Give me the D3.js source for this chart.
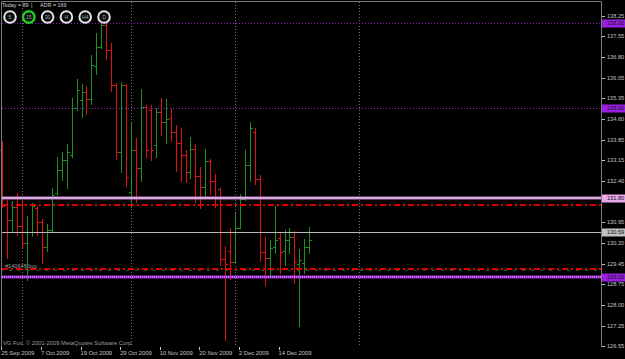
<!DOCTYPE html>
<html>
<head>
<meta charset="utf-8">
<script src="https://cdn.jsdelivr.net/npm/d3@7"></script>
<style>
body { margin: 0; background: #000; }
svg { display: block; }
text { font-family: "Liberation Sans", Arial, sans-serif; }
</style>
</head>
<body>
<svg width="625" height="359"></svg>
<script>
// daily bars, 25 Sep 2009 .. 22 Dec 2009
var dates = ["2009-09-25","2009-09-28","2009-09-29","2009-09-30",
  "2009-10-01","2009-10-02","2009-10-05","2009-10-06","2009-10-07","2009-10-08","2009-10-09",
  "2009-10-12","2009-10-13","2009-10-14","2009-10-15","2009-10-16","2009-10-19","2009-10-20",
  "2009-10-21","2009-10-22","2009-10-23","2009-10-26","2009-10-27","2009-10-28","2009-10-29","2009-10-30",
  "2009-11-02","2009-11-03","2009-11-04","2009-11-05","2009-11-06","2009-11-09","2009-11-10",
  "2009-11-11","2009-11-12","2009-11-13","2009-11-16","2009-11-17","2009-11-18","2009-11-19",
  "2009-11-20","2009-11-23","2009-11-24","2009-11-25","2009-11-26","2009-11-27","2009-11-30",
  "2009-12-01","2009-12-02","2009-12-03","2009-12-04","2009-12-07","2009-12-08","2009-12-09",
  "2009-12-10","2009-12-11","2009-12-14","2009-12-15","2009-12-16","2009-12-17","2009-12-18",
  "2009-12-21","2009-12-22"];

var opens = [133.50,131.55,131.02,131.48,130.80,130.20,130.59,131.46,130.95,130.06,
  130.66,131.97,132.79,133.14,133.32,134.99,135.27,135.55,135.31,136.48,
  137.15,137.93,137.04,135.80,133.43,135.80,132.01,133.50,132.86,135.02,
  134.92,133.68,134.85,134.49,134.63,134.14,133.75,133.32,132.72,133.53,
  132.58,132.19,133.11,132.40,132.12,129.63,129.92,129.53,130.73,131.76,
  132.97,134.14,132.47,129.88,129.67,130.06,130.38,129.92,130.31,130.41,
  129.46,129.49,130.06];
var highs = [133.82,131.73,131.69,131.97,131.73,131.16,131.62,131.51,131.05,130.87,
  132.15,133.25,133.43,133.71,135.34,136.02,135.84,135.77,136.87,137.65,
  138.21,138.21,137.29,135.87,135.91,135.84,134.46,133.92,135.66,135.09,
  135.09,134.99,135.34,135.31,134.95,134.38,134.28,133.50,133.96,133.71,
  132.90,133.53,133.18,132.65,132.15,130.09,130.73,131.26,131.94,133.50,
  134.49,134.28,132.61,130.41,130.31,131.51,130.59,130.66,130.73,130.63,
  129.99,130.34,130.77];
var lows = [131.48,129.67,130.59,130.48,130.06,128.89,130.45,130.48,129.49,129.92,
  130.63,131.90,132.43,132.15,133.25,134.92,134.67,134.77,135.13,136.19,
  137.12,136.73,135.59,133.18,132.72,132.22,131.48,131.65,132.40,133.25,
  133.14,133.25,134.03,133.75,133.82,132.75,132.40,132.36,132.51,131.65,
  131.44,131.80,131.94,131.48,129.42,126.76,128.92,129.49,130.73,131.73,
  132.40,132.29,129.56,128.71,129.00,129.85,129.14,129.42,129.85,128.78,
  127.26,129.14,129.85];
var closes = [131.51,131.02,131.48,130.80,130.20,130.59,131.51,130.95,130.06,130.66,
  131.90,132.79,133.14,133.43,134.99,135.63,135.55,135.31,136.51,137.15,
  137.93,137.04,135.80,133.43,135.80,132.54,133.50,132.86,135.02,133.50,
  133.50,134.85,134.49,134.60,134.14,133.75,133.32,132.72,133.53,132.58,
  132.19,133.11,132.40,131.55,129.63,129.46,129.53,130.73,131.76,132.97,
  134.28,132.47,129.88,129.67,130.02,130.31,129.88,130.31,130.41,129.53,
  129.60,130.06,130.31];

var priceTicks = [138.25,137.55,136.80,136.05,135.35,134.60,133.85,133.15,132.40,
  130.95,130.20,129.45,128.75,128.00,127.25,126.55];
var dateTicks = ["2009-09-25","2009-10-07","2009-10-19","2009-10-29",
  "2009-11-10","2009-11-20","2009-12-02","2009-12-14"];
var gridBars = [4, 26, 47, 72];   // month separators (bar index)

var purpleLevels = [138.00, 135.00];
var tradeOpen = 131.80;
var bidLevel = 130.59;
var tradeTarget = 129.00;
var stopLevels = [131.56, 129.27];

var timeframes = ["5","15","30","H","H4","D"];
var activeTf = "15";
var today = 89, adr = 169;
var orderLabel = "#140648 buy";

var svg = d3.select("svg"),
    width = +svg.attr("width"),
    height = +svg.attr("height");

var x = d3.scaleLinear().domain([0, 62]).range([2.3, 309.3]);
var y = d3.scaleLinear().domain([126.55, 138.25]).range([346, 16]);
var parse = d3.timeParse("%Y-%m-%d");
var fmtDate = d3.timeFormat("%-d %b %Y");
var px = function(v) { return Math.round(v) + 0.5; };

var axisCol = "#c4c4c4";

svg.append("rect").attr("width", width).attr("height", height).attr("fill", "#000");

// vertical grid
svg.selectAll(".vgrid").data(gridBars).enter().append("line")
    .attr("x1", function(d) { return px(x(d)); })
    .attr("x2", function(d) { return px(x(d)); })
    .attr("y1", 2).attr("y2", 347)
    .attr("stroke", "#707070").attr("stroke-dasharray", "1,2")
    .attr("shape-rendering", "crispEdges");

// OHLC bars
var bars = svg.append("g").attr("shape-rendering", "crispEdges")
    .selectAll("g").data(dates).enter().append("g")
    .attr("stroke", function(d, i) { return closes[i] >= opens[i] ? "#1f8f1f" : "#e01010"; })
    .attr("stroke-width", 1);
bars.append("line")
    .attr("x1", function(d, i) { return px(x(i)); })
    .attr("x2", function(d, i) { return px(x(i)); })
    .attr("y1", function(d, i) { return Math.round(y(highs[i])); })
    .attr("y2", function(d, i) { return Math.round(y(lows[i])) + 1; });
bars.append("line")
    .attr("x1", function(d, i) { return Math.round(x(i)) - 2; })
    .attr("x2", function(d, i) { return Math.round(x(i)); })
    .attr("y1", function(d, i) { return px(y(opens[i])); })
    .attr("y2", function(d, i) { return px(y(opens[i])); });
bars.append("line")
    .attr("x1", function(d, i) { return Math.round(x(i)) + 1; })
    .attr("x2", function(d, i) { return Math.round(x(i)) + 3; })
    .attr("y1", function(d, i) { return px(y(closes[i])); })
    .attr("y2", function(d, i) { return px(y(closes[i])); });

// level lines
svg.selectAll(".plev").data(purpleLevels).enter().append("line")
    .attr("x1", 2).attr("x2", 601)
    .attr("y1", function(d) { return px(y(d)); })
    .attr("y2", function(d) { return px(y(d)); })
    .attr("stroke", "#8a22c0").attr("stroke-dasharray", "1,2")
    .attr("shape-rendering", "crispEdges");

// stop / order lines
stopLevels.forEach(function(p, k) {
    if (k == 1) {
        svg.append("line").attr("x1", 2).attr("x2", 601)
            .attr("y1", Math.round(y(p)) + 1.5).attr("y2", Math.round(y(p)) + 1.5)
            .attr("stroke", "#1d5a1d").attr("stroke-width", 1)
            .attr("stroke-dasharray", "3,6").attr("stroke-dashoffset", -7)
            .attr("shape-rendering", "crispEdges");
    }
    svg.append("line").attr("x1", 2).attr("x2", 601)
        .attr("y1", Math.round(y(p))).attr("y2", Math.round(y(p)))
        .attr("stroke", "#dd0000").attr("stroke-width", 2)
        .attr("stroke-dasharray", "6,3,2,3")
        .attr("shape-rendering", "crispEdges");
});

svg.append("line").attr("x1", 2).attr("x2", 601)
    .attr("y1", px(y(bidLevel))).attr("y2", px(y(bidLevel)))
    .attr("stroke", "#b8b8b8").attr("shape-rendering", "crispEdges");

svg.append("line").attr("x1", 2).attr("x2", 601)
    .attr("y1", y(tradeOpen)).attr("y2", y(tradeOpen))
    .attr("stroke", "#c080c8").attr("stroke-width", 3);
svg.append("line").attr("x1", 2).attr("x2", 601)
    .attr("y1", y(tradeOpen)).attr("y2", y(tradeOpen))
    .attr("stroke", "#f4d4f4").attr("stroke-width", 1);

svg.append("line").attr("x1", 2).attr("x2", 601)
    .attr("y1", y(tradeTarget)).attr("y2", y(tradeTarget))
    .attr("stroke", "#9a28d0").attr("stroke-width", 3);
svg.append("line").attr("x1", 2).attr("x2", 601)
    .attr("y1", y(tradeTarget)).attr("y2", y(tradeTarget))
    .attr("stroke", "#f0c8ff").attr("stroke-width", 1).attr("stroke-dasharray", "1,1");

// frame
svg.append("path")
    .attr("d", "M1.5,347V1.5H601.5V347")
    .attr("fill", "none").attr("stroke", "#7a7a7a");

// price axis
svg.selectAll(".ptick").data(priceTicks).enter().append("line")
    .attr("x1", 602).attr("x2", 605)
    .attr("y1", function(d) { return px(y(d)); })
    .attr("y2", function(d) { return px(y(d)); })
    .attr("stroke", axisCol);
svg.selectAll(".plab").data(priceTicks).enter().append("text")
    .attr("x", 607).attr("y", function(d) { return y(d); })
    .attr("dy", "0.36em")
    .attr("font-size", 5.6).attr("fill", axisCol)
    .text(function(d) { return d.toFixed(2); });

var boxes = [
    [purpleLevels[0], "#9a1ee0"],
    [purpleLevels[1], "#9a1ee0"],
    [tradeOpen, "#e6a8e6"],
    [bidLevel, "#c0c0c0"],
    [tradeTarget, "#9a1ee0"]
];
boxes.forEach(function(b) {
    svg.append("rect").attr("x", 602).attr("y", Math.round(y(b[0])) - 3.5)
        .attr("width", 23).attr("height", 8).attr("fill", b[1]);
    svg.append("text").attr("x", 607).attr("y", y(b[0]))
        .attr("dy", "0.36em").attr("font-size", 5.6).attr("fill", "#111")
        .text(b[0].toFixed(2));
});

// date axis
var idx = function(s) { return dates.indexOf(s); };
svg.selectAll(".dtick").data(dateTicks).enter().append("line")
    .attr("x1", function(d) { return px(x(idx(d))) - 1; })
    .attr("x2", function(d) { return px(x(idx(d))) - 1; })
    .attr("y1", 347).attr("y2", 350)
    .attr("stroke", axisCol);
svg.selectAll(".dlab").data(dateTicks).enter().append("text")
    .attr("x", function(d) { return x(idx(d)) - 1; })
    .attr("y", 353).attr("dy", "0.36em")
    .attr("font-size", 5.8).attr("fill", axisCol)
    .text(function(d) { return fmtDate(parse(d)); });

// header info
svg.append("text").attr("x", 2).attr("y", 5).attr("dy", "0.36em")
    .attr("font-size", 5.4).attr("fill", "#d0d0d0").text("Today = " + today);
svg.append("text").attr("x", 31).attr("y", 5).attr("dy", "0.36em")
    .attr("font-size", 5.4).attr("fill", "#d0d0d0").text("|");
svg.append("text").attr("x", 40).attr("y", 5).attr("dy", "0.36em")
    .attr("font-size", 5.4).attr("fill", "#d0d0d0").text("ADR = " + adr);

// timeframe buttons
var tf = svg.selectAll(".tf").data(timeframes).enter().append("g")
    .attr("transform", function(d, i) { return "translate(" + (10 + i * 18.8) + ",17)"; });
tf.append("circle").attr("r", 5.8)
    .attr("fill", "#0a0a0a")
    .attr("stroke", function(d) { return d == activeTf ? "#22cc22" : "#e4e4e4"; })
    .attr("stroke-width", function(d) { return d == activeTf ? 2.4 : 2; });
tf.append("text").attr("text-anchor", "middle").attr("dy", "0.36em")
    .attr("font-size", 5.2).attr("fill", "#8fb8b8")
    .text(function(d) { return d; });

// order label and copyright
svg.append("text").attr("x", 5).attr("y", 266).attr("dy", "0.36em")
    .attr("font-size", 5.6).attr("fill", "#9c9c9c").text(orderLabel);
svg.append("text").attr("x", 3).attr("y", 343).attr("dy", "0.36em")
    .attr("font-size", 5.8).attr("fill", "#9c9c9c")
    .text("VG Fox, \u00a9 2001-2009 MetaQuotes Software Corp.");
</script>
</body>
</html>
